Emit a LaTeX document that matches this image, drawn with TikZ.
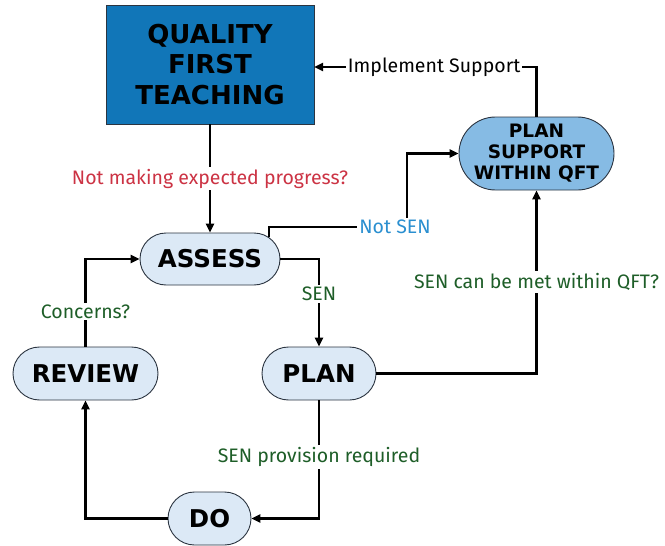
\documentclass[tikz,border=0pt]{standalone}
\usepackage{fontspec}
\setmainfont{Fira Sans}
\newfontfamily\nodefont{DejaVu Sans}
\usetikzlibrary{shapes.misc,arrows.meta}
\definecolor{qftblue}{HTML}{1176B8}
\definecolor{supblue}{HTML}{86BBE4}
\definecolor{pale}{HTML}{DCE9F6}
\definecolor{edge}{HTML}{2B3440}
\definecolor{lred}{HTML}{CC3344}
\definecolor{lblue}{HTML}{2A8FD0}
\definecolor{lgreen}{HTML}{1E5E28}
\tikzset{
  pill/.style={rounded rectangle, draw=edge, line width=0.9pt, fill=pale, align=center, inner sep=0pt,
    font=\nodefont\fontsize{24.5}{29}\selectfont\bfseries},
  arr/.style={line width=2.4pt, -{Triangle[length=9pt,width=8pt]}},
  lbl/.style={fill=white, inner sep=2pt, font=\fontsize{19.5}{22}\selectfont},
}
\begin{document}
\begin{tikzpicture}[x=1pt,y=-1pt]
\useasboundingbox (0,0) rectangle (665,546);
\node[draw=edge, line width=0.9pt, fill=qftblue, minimum width=208pt, minimum height=119pt, align=center,
  font=\nodefont\fontsize{26}{30.5}\selectfont\bfseries, inner sep=0pt] (qft) at (210,64.5) {QUALITY\\FIRST\\TEACHING};
\node[pill, fill=supblue, minimum width=155pt, minimum height=73pt, font=\nodefont\fontsize{18.5}{21}\selectfont\bfseries]
  (plansup) at (536.5,153.5) {PLAN\\SUPPORT\\WITHIN QFT};
\node[pill, minimum width=140pt, minimum height=52pt] (assess) at (210,259) {ASSESS};
\node[pill, minimum width=114pt, minimum height=53pt] (plan) at (319,373.5) {PLAN};
\node[pill, minimum width=145pt, minimum height=53pt] (review) at (85.5,373.5) {REVIEW};
\node[pill, minimum width=83pt, minimum height=53pt] (do) at (209.5,518.5) {DO};
\coordinate (implend) at (314,67);
\coordinate (notsenc) at (407,227);

\draw[arr] (qft.south) -- node[lbl, text=lred]{Not making expected progress?} (assess.north);
\draw[arr] (plansup.north) |- node[pos=0.73, lbl]{Implement Support} (implend);
\draw[arr] (assess.20) |- (notsenc) |- (plansup.west);
\node[lbl, text=lblue] (notsen) at (395,227) {Not SEN};
\draw[arr] (assess.east) -| node[pos=0.7, lbl, text=lgreen]{SEN} (plan.north);
\draw[arr] (plan.east) -| node[pos=0.75, lbl, text=lgreen]{SEN can be met within QFT?} (plansup.south);
\draw[arr] (plan.south) |- node[pos=0.24, lbl, text=lgreen]{SEN provision required} (do.east);
\draw[arr] (do.west) -| (review.south);
\draw[arr] (review.north) |- node[pos=0.2, lbl, text=lgreen]{Concerns?} (assess.west);
\end{tikzpicture}
\end{document}
